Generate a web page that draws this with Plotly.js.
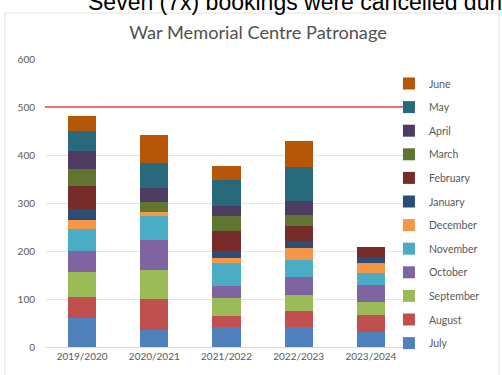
<!DOCTYPE html>
<html>
<head>
<meta charset="utf-8">
<script src="https://cdn.plot.ly/plotly-3.0.1.min.js"></script>
<style>
html,body{margin:0;padding:0;background:#fff;overflow:hidden;}
#chart{width:502px;height:375px;}
</style>
</head>
<body>
<div id="chart"></div>
<script>
var years = ['2019/2020','2020/2021','2021/2022','2022/2023','2023/2024'];
var months = ['July','August','September','October','November','December','January','February','March','April','May','June'];
var july      = [60, 36, 41, 41, 31];
var august    = [45, 63, 24, 33, 36];
var september = [51, 62, 38, 34, 27];
var october   = [44, 61, 25, 38, 35];
var november  = [45, 50, 47, 35, 26];
var december  = [19,  9, 10, 26, 21];
var january   = [24,  0, 14, 14, 12];
var february  = [47,  0, 43, 31, 20];
var march     = [36, 21, 30, 24,  0];
var april     = [38, 30, 21, 28,  0];
var may       = [42, 52, 54, 70,  0];
var june      = [31, 57, 31, 56,  0];
var targetLevel = 500;
var yTicks = [0, 100, 200, 300, 400, 500, 600];

var series = [july, august, september, october, november, december, january, february, march, april, may, june];
var colors = ['#4F81BD','#C0504D','#9BBB59','#8064A2','#4BACC6','#F79646',
              '#2C4D75','#772C2A','#5F7530','#4D3B62','#276A7C','#B65708'];

var traces = series.map(function(vals, i){
  return {
    type: 'bar',
    name: months[i],
    x: years,
    y: vals,
    legendgroup: months[i],
    legendrank: 100 - i,
    marker: {color: colors[i], line: {width: 0}},
    hoverinfo: 'none'
  };
});

var layout = {
  width: 502, height: 375,
  barmode: 'stack',
  bargap: 0.61,
  paper_bgcolor: '#ffffff',
  plot_bgcolor: '#ffffff',
  margin: {l: 46, r: 95, t: 59, b: 28, autoexpand: false},
  showlegend: true,
  title: {
    text: 'War Memorial Centre Patronage',
    x: 0.514, xanchor: 'center', xref: 'container',
    y: 1 - 33/375, yanchor: 'middle', yref: 'container',
    font: {family: 'Lato, "Open Sans", sans-serif', size: 18.2, color: '#505050'}
  },
  xaxis: {
    type: 'category',
    showgrid: false,
    showline: true, linecolor: '#d9d9d9', linewidth: 1,
    ticks: '',
    tickfont: {family: 'Lato, "Open Sans", sans-serif', size: 10, color: '#595959'}
  },
  yaxis: {
    range: [0, 600],
    tickvals: yTicks,
    showgrid: true, gridcolor: '#e4e4e4', gridwidth: 1,
    zeroline: false,
    showline: false,
    ticks: '', ticklabelstandoff: 10,
    tickfont: {family: 'Lato, "Open Sans", sans-serif', size: 10, color: '#595959'}
  },
  legend: {
    x: 0.95, xanchor: 'left',
    yref: 'container',
    y: 1 - 69/375, yanchor: 'top',
    traceorder: 'grouped',
    tracegroupgap: 4.6,
    maxheight: 400,
    font: {family: 'Lato, "Open Sans", sans-serif', size: 10.5, color: '#595959'},
    bgcolor: 'rgba(0,0,0,0)'
  },
  shapes: [
    {type: 'line', xref: 'paper', yref: 'y', x0: -0.003, x1: 1.02, y0: targetLevel, y1: targetLevel,
     line: {color: '#e8474a', width: 1.5}},
    {type: 'rect', xref: 'paper', yref: 'paper',
     x0: (5-46)/361, x1: (499-46)/361, y0: (347-378)/288, y1: (347-13)/288,
     line: {color: '#e3e3e3', width: 1}, fillcolor: 'rgba(0,0,0,0)', layer: 'below'}
  ],
  annotations: [
    {text: 'Seven (7x) bookings were cancelled during the period',
     xref: 'paper', yref: 'paper', x: (86-46)/361, xanchor: 'left',
     y: (347-17)/288, yanchor: 'bottom', showarrow: false,
     font: {family: '"Liberation Sans", Arial, sans-serif', size: 23, color: '#000000'}}
  ]
};

Plotly.newPlot('chart', traces, layout, {displayModeBar: false, staticPlot: true});
</script>
</body>
</html>
